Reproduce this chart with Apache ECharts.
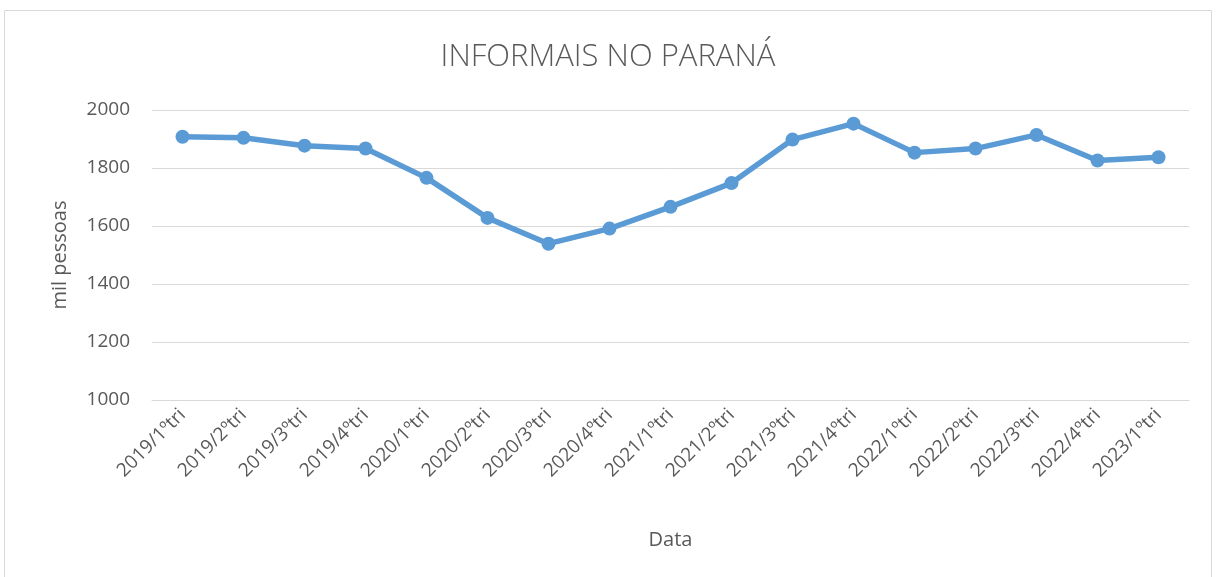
<!DOCTYPE html>
<html>
<head>
<meta charset="utf-8">
<script src="https://cdn.jsdelivr.net/npm/echarts@6/dist/echarts.min.js"></script>
<style>
  html, body { margin: 0; padding: 0; background: #fff; }
  #chart { width: 1216px; height: 577px; }
</style>
</head>
<body>
<div id="chart"></div>
<script>
// categorias (trimestres)
var categories = [
  '2019/1ºtri', '2019/2ºtri', '2019/3ºtri', '2019/4ºtri',
  '2020/1ºtri', '2020/2ºtri', '2020/3ºtri', '2020/4ºtri',
  '2021/1ºtri', '2021/2ºtri', '2021/3ºtri', '2021/4ºtri',
  '2022/1ºtri', '2022/2ºtri', '2022/3ºtri', '2022/4ºtri',
  '2023/1ºtri'
];
// informais, mil pessoas
var informais = [
  1908, 1904, 1877, 1867,
  1766, 1628, 1539, 1591,
  1666, 1748, 1898, 1953,
  1853, 1867, 1914, 1826,
  1837
];

var font = "'Open Sans', 'Noto Sans', sans-serif";
var textColor = '#595959';

var myChart = echarts.init(document.getElementById('chart'));
var option = {
  animation: false,
  backgroundColor: '#fff',
  title: {
    text: 'INFORMAIS NO PARANÁ',
    left: 'center',
    top: 37,
    textStyle: {
      fontFamily: font,
      fontWeight: 300,
      fontSize: 31,
      color: textColor
    }
  },
  graphic: [{
    type: 'rect',
    shape: { x: 4.5, y: 10.5, width: 1207, height: 580 },
    style: { fill: 'none', stroke: '#d9d9d9', lineWidth: 1 },
    silent: true
  }],
  grid: {
    left: 152,
    right: 27,
    top: 110,
    bottom: 177
  },
  xAxis: {
    type: 'category',
    data: categories,
    boundaryGap: true,
    name: 'Data',
    nameLocation: 'middle',
    nameGap: 130,
    nameTextStyle: { fontFamily: font, fontSize: 20, color: textColor },
    axisLine: { lineStyle: { color: '#d9d9d9', width: 1 } },
    axisTick: { show: false },
    axisLabel: {
      rotate: 45,
      interval: 0,
      margin: 12,
      fontFamily: font,
      fontSize: 19,
      color: textColor
    }
  },
  yAxis: {
    type: 'value',
    min: 1000,
    max: 2000,
    interval: 200,
    name: 'mil pessoas',
    nameLocation: 'middle',
    nameGap: 82,
    nameTextStyle: { fontFamily: font, fontSize: 20, color: textColor },
    axisLine: { show: false },
    axisTick: { show: false },
    axisLabel: {
      margin: 22,
      fontFamily: font,
      fontSize: 19,
      color: textColor,
      formatter: function (v) { return String(v); }
    },
    splitLine: { lineStyle: { color: '#d9d9d9', width: 1 } }
  },
  series: [{
    name: 'Informais',
    type: 'line',
    data: informais,
    symbol: 'circle',
    symbolSize: 14,
    lineStyle: { color: '#5b9bd5', width: 5.5 },
    itemStyle: { color: '#5b9bd5' }
  }]
};
myChart.setOption(option);
</script>
</body>
</html>
